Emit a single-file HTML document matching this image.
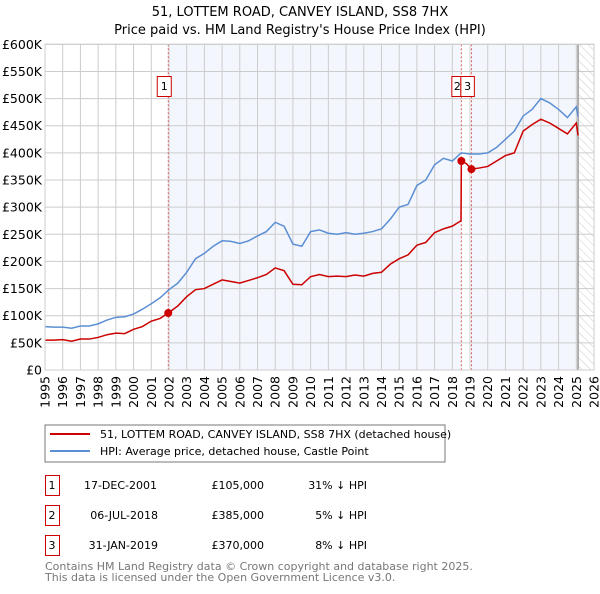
<!DOCTYPE html>
<html><head><meta charset="utf-8"><style>
body{margin:0;background:#fff;width:600px;height:590px;overflow:hidden;font-family:"DejaVu Sans","Liberation Sans",sans-serif;}
svg text{font-family:"DejaVu Sans","Liberation Sans",sans-serif;}
</style></head><body>
<svg id="c" width="600" height="590" xmlns="http://www.w3.org/2000/svg">
<defs><pattern id="hatch" width="6" height="6" patternUnits="userSpaceOnUse" patternTransform="rotate(-45)"><line x1="0" y1="0" x2="0" y2="6" stroke="#ccc" stroke-width="1"/></pattern></defs>
<text x="300" y="16" text-anchor="middle" font-size="13">51, LOTTEM ROAD, CANVEY ISLAND, SS8 7HX</text>
<text x="300" y="34" text-anchor="middle" font-size="13">Price paid vs. HM Land Registry's House Price Index (HPI)</text>
<g id="plot"></g>
<rect x="45" y="425" width="400" height="37" fill="#fff" stroke="#777"/>
<line x1="50" y1="434" x2="90" y2="434" stroke="#cc0000" stroke-width="2"/>
<text x="100" y="438" font-size="11">51, LOTTEM ROAD, CANVEY ISLAND, SS8 7HX (detached house)</text>
<line x1="50" y1="451" x2="90" y2="451" stroke="#5b8fd4" stroke-width="2"/>
<text x="100" y="455" font-size="11">HPI: Average price, detached house, Castle Point</text>
<g font-size="11">
<rect x="45.5" y="475.5" width="14" height="20" fill="none" stroke="#cc0000"/><text x="52" y="489" text-anchor="middle">1</text>
<text x="157" y="489" text-anchor="end">17-DEC-2001</text><text x="264" y="489" text-anchor="end">£105,000</text><text x="367" y="489" text-anchor="end">31% ↓ HPI</text>
<rect x="45.5" y="505.5" width="14" height="20" fill="none" stroke="#cc0000"/><text x="52" y="519" text-anchor="middle">2</text>
<text x="158" y="519" text-anchor="end">06-JUL-2018</text><text x="264" y="519" text-anchor="end">£385,000</text><text x="367" y="519" text-anchor="end">5% ↓ HPI</text>
<rect x="45.5" y="535.5" width="14" height="20" fill="none" stroke="#cc0000"/><text x="52" y="549" text-anchor="middle">3</text>
<text x="158" y="549" text-anchor="end">31-JAN-2019</text><text x="264" y="549" text-anchor="end">£370,000</text><text x="367" y="549" text-anchor="end">8% ↓ HPI</text>
</g>
<text x="45" y="570" font-size="11" fill="#777">Contains HM Land Registry data © Crown copyright and database right 2025.</text>
<text x="45" y="581" font-size="11" fill="#777">This data is licensed under the Open Government Licence v3.0.</text>
</svg>
<script>
const yTicks=[0,50,100,150,200,250,300,350,400,450,500,550,600];
const yTickLabels=["£0","£50K","£100K","£150K","£200K","£250K","£300K","£350K","£400K","£450K","£500K","£550K","£600K"];
const xYears=[1995,1996,1997,1998,1999,2000,2001,2002,2003,2004,2005,2006,2007,2008,2009,2010,2011,2012,2013,2014,2015,2016,2017,2018,2019,2020,2021,2022,2023,2024,2025,2026];
const hpiT=[1995,1995.5,1996,1996.5,1997,1997.5,1998,1998.5,1999,1999.5,2000,2000.5,2001,2001.5,2002,2002.5,2003,2003.5,2004,2004.5,2005,2005.5,2006,2006.5,2007,2007.5,2008,2008.5,2009,2009.5,2010,2010.5,2011,2011.5,2012,2012.5,2013,2013.5,2014,2014.5,2015,2015.5,2016,2016.5,2017,2017.5,2018,2018.5,2019,2019.5,2020,2020.5,2021,2021.5,2022,2022.5,2023,2023.5,2024,2024.5,2025,2025.1];
const hpiV=[80,79,79,77,81,81,85,92,97,98,103,112,122,133,148,160,180,205,215,228,238,237,233,238,247,255,272,265,232,228,255,258,252,250,253,250,252,255,260,278,300,305,340,350,378,390,385,400,398,398,400,410,425,440,468,480,500,492,480,465,485,467];
const priceT=[1995,1995.5,1996,1996.5,1997,1997.5,1998,1998.5,1999,1999.5,2000,2000.5,2001,2001.5,2001.96,2002.5,2003,2003.5,2004,2004.5,2005,2005.5,2006,2006.5,2007,2007.5,2008,2008.5,2009,2009.5,2010,2010.5,2011,2011.5,2012,2012.5,2013,2013.5,2014,2014.5,2015,2015.5,2016,2016.5,2017,2017.5,2018,2018.49,2018.51,2018.8,2019.08,2019.5,2020,2020.5,2021,2021.5,2022,2022.5,2023,2023.5,2024,2024.5,2025,2025.1];
const priceV=[55,55,56,53,57,57,60,65,68,67,75,80,90,95,105,118,135,148,150,158,166,163,160,165,170,176,188,183,158,157,172,176,172,173,172,175,173,178,180,195,205,212,230,235,253,260,265,275,385,380,370,372,375,385,395,400,440,452,462,455,445,435,455,432];
const saleT=[2001.96,2018.51,2019.08];
const saleV=[105,385,370];
const saleLabels=["1","2","3"];
const X0=45,X1=594,Y0=370,Y1=44.3;
const xs=t=>X0+(t-1995)/31*(X1-X0);
const ys=v=>Y0-v/600*(Y0-Y1);
const NS="http://www.w3.org/2000/svg";
const g=document.getElementById('plot');
function mk(tag,a,parent){const e=document.createElementNS(NS,tag);for(const k in a)e.setAttribute(k,a[k]);(parent||g).appendChild(e);return e;}
let e;
e=mk('rect',{x:X0,y:Y1,width:X1-X0,height:Y0-Y1,fill:'#fff'});


e=mk('rect',{x:xs(saleT[0]),y:Y1,width:xs(2025.1)-xs(saleT[0]),height:Y0-Y1,fill:'#f3f6fd'});


e=mk('rect',{x:xs(saleT[1]),y:Y1,width:xs(saleT[2])-xs(saleT[1]),height:Y0-Y1,fill:'#fff'});


e=mk('rect',{x:xs(2025.1),y:Y1,width:X1-xs(2025.1),height:Y0-Y1,fill:'url(#hatch)'});


xYears.forEach(y=>{e=mk('line',{x1:xs(y),x2:xs(y),y1:Y1,y2:Y0,stroke:'#ccc','stroke-width':1});


e=mk('text',{x:xs(y)+4.5,y:Y0+6,'font-size':12.5,transform:`rotate(-90 ${xs(y)+4.5} ${Y0+6})`,'text-anchor':'end'});e.textContent=y;

});
yTicks.forEach((v,i)=>{e=mk('line',{x1:X0,x2:X1,y1:ys(v),y2:ys(v),stroke:'#ccc','stroke-width':1});


e=mk('text',{x:42,y:ys(v)+4.5,'font-size':12.5,'text-anchor':'end'});e.textContent=yTickLabels[i];

});
e=mk('line',{x1:xs(2025.1),x2:xs(2025.1),y1:Y1,y2:Y0,stroke:'#999','stroke-width':1.5});


saleT.forEach(t=>{e=mk('line',{x1:xs(t),x2:xs(t),y1:Y1,y2:Y0,stroke:'#e06060','stroke-width':1,'stroke-dasharray':'2,2'});

});
e=mk('polyline',{points:hpiT.map((t,i)=>xs(t)+','+ys(hpiV[i])).join(' '),fill:'none',stroke:'#5b8fd4','stroke-width':1.5});


e=mk('polyline',{points:priceT.map((t,i)=>xs(t)+','+ys(priceV[i])).join(' '),fill:'none',stroke:'#cc0000','stroke-width':1.5});


saleT.forEach((t,i)=>{e=mk('circle',{cx:xs(t),cy:ys(saleV[i]),r:4,fill:'#cc0000'});

});
const b2=xs(saleT[1]);
const boxX=[xs(saleT[0])-11,b2-9.5,b2-0.5];
const boxW=[14,9,13.5];
saleLabels.forEach((s,i)=>{
e=mk('rect',{x:boxX[i],y:76.5,width:boxW[i],height:20,fill:'#fff',stroke:'#cc0000'});


e=mk('text',{x:boxX[i]+boxW[i]/2+(i==1?1:0),y:90,'font-size':11,'text-anchor':'middle'});e.textContent=s;

});
e=mk('rect',{x:X0,y:Y1,width:X1-X0,height:Y0-Y1,fill:'none',stroke:'#ccc'});


</script>
</body></html>
